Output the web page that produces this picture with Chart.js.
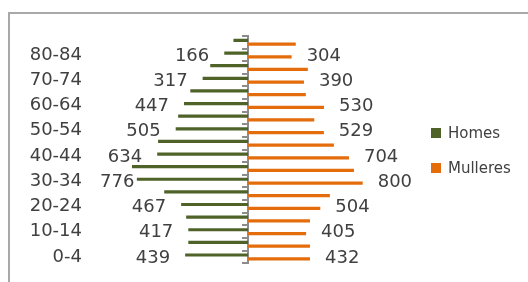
<!DOCTYPE html>
<html>
<head>
<meta charset="utf-8">
<script src="https://cdn.jsdelivr.net/npm/chart.js@4"></script>
<style>
    html, body { margin: 0; padding: 0; background: #fff; overflow: hidden; }
    #wrap { position: relative; width: 528px; height: 282px; }
    #frame { position: absolute; left: 8px; top: 12px; width: 600px; height: 400px;
             border-top: 2px solid #a9a9a9; border-left: 2px solid #a9a9a9; }
    #chart { position: absolute; left: 0; top: 0; }
    #legend { position: absolute; left: 431px; top: 125px; font: 15px 'DejaVu Sans'; color: #404040; }
    #legend .item { display: flex; align-items: center; height: 16px; margin-bottom: 19px; white-space: nowrap; }
    #legend .box { width: 10px; height: 10px; margin-right: 7px; }
</style>
</head>
<body>
<div id="wrap">
    <div id="frame"></div>
    <canvas id="chart" width="528" height="282"></canvas>
    <div id="legend"></div>
</div>
<script>
// Age groups, bottom to top
const ageGroups = ['0-4', '5-9', '10-14', '15-19', '20-24', '25-29', '30-34', '35-39', '40-44',
    '45-49', '50-54', '55-59', '60-64', '65-69', '70-74', '75-79', '80-84', '85+'];
const homes = [439, 417, 417, 432, 467, 585, 776, 810, 634, 628, 505, 488, 447, 403, 317, 264, 166, 102];
const mulleres = [432, 432, 405, 432, 504, 571, 800, 739, 704, 599, 529, 462, 530, 403, 390, 417, 304, 333];

const textColor = '#404040';
const labelFont = { family: 'DejaVu Sans', size: 18 };

// only every other group gets a label, like the original
const showLabel = i => i % 2 === 0;

// draws the value next to the end of each labelled bar
const valueLabels = {
    id: 'valueLabels',
    afterDatasetsDraw(chart) {
        const ctx = chart.ctx;
        const yScale = chart.scales.y;
        ctx.save();
        ctx.font = `${labelFont.size}px ${labelFont.family}`;
        ctx.fillStyle = textColor;
        ctx.textBaseline = 'middle';
        chart.data.datasets.forEach((ds, di) => {
            chart.getDatasetMeta(di).data.forEach((bar, i) => {
                if (!showLabel(i)) return;
                const text = String(Math.abs(ds.data[i]));
                const y = yScale.getPixelForValue(i) + 1;
                if (ds.data[i] < 0) {
                    const w = ctx.measureText(text).width;
                    ctx.textAlign = 'right';
                    ctx.fillText(text, Math.max(bar.x - 15, 100 + w), y);
                } else {
                    ctx.textAlign = 'left';
                    ctx.fillText(text, bar.x + 15, y);
                }
            });
        });
        ctx.restore();
    }
};

const chart = new Chart(document.getElementById('chart'), {
    type: 'bar',
    data: {
        labels: ageGroups,
        datasets: [
            { label: 'Homes', data: homes.map(v => -v), backgroundColor: '#4F6228' },
            { label: 'Mulleres', data: mulleres, backgroundColor: '#E46C0A' }
        ]
    },
    options: {
        indexAxis: 'y',
        responsive: false,
        animation: false,
        categoryPercentage: 0.6,
        barPercentage: 0.85,
        layout: { padding: { top: 36, bottom: 6, left: 0, right: 117 } },
        scales: {
            x: { display: false, min: -1103, max: 1137 },
            y: {
                reverse: true,
                afterFit: s => { s.width = 90; },
                grid: { display: false, drawTicks: false },
                border: { display: false },
                ticks: {
                    autoSkip: false,
                    padding: 8,
                    color: textColor,
                    font: labelFont,
                    callback: (v, i) => showLabel(i) ? ageGroups[i] : ''
                }
            },
            y2: {
                type: 'category',
                position: { x: 0 },
                reverse: true,
                offset: true,
                ticks: { display: false },
                grid: { offset: true, drawOnChartArea: false, color: '#8c8c8c', lineWidth: 2, tickLength: 5 },
                border: { color: '#8c8c8c', width: 2 }
            }
        },
        plugins: {
            legend: { display: false },
            tooltip: { enabled: false }
        }
    },
    plugins: [valueLabels]
});

// legend as html, built from the datasets
document.getElementById('legend').innerHTML = chart.data.datasets.map(ds =>
    `<div class="item"><span class="box" style="background:${ds.backgroundColor}"></span>${ds.label}</div>`
).join('');
</script>
</body>
</html>
